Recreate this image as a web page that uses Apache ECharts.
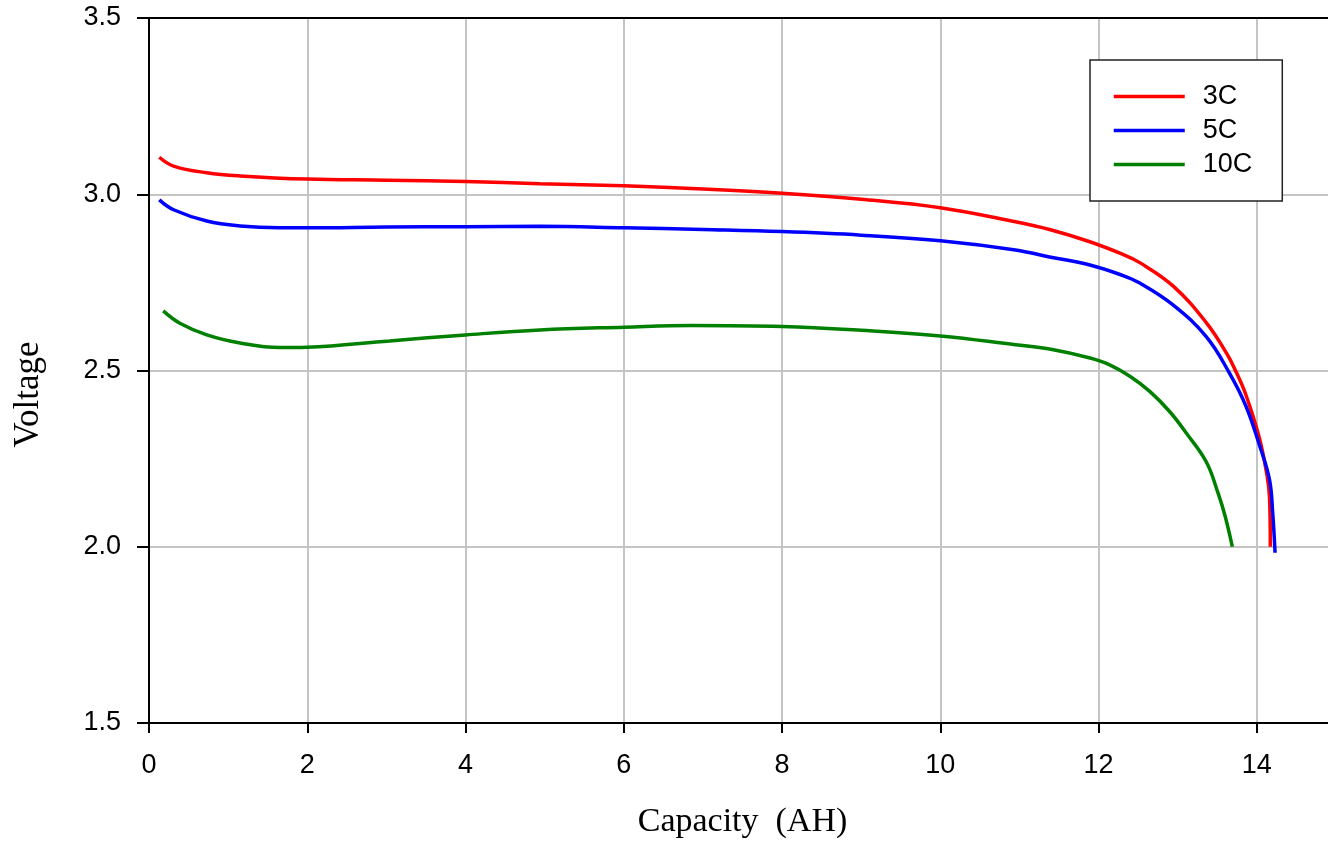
<!DOCTYPE html>
<html>
<head>
<meta charset="utf-8">
<script src="https://cdn.jsdelivr.net/npm/echarts@6/dist/echarts.min.js"></script>
<style>
	html, body { margin: 0; padding: 0; background: #fff; }
	#chart { width: 1328px; height: 843px; }
</style>
</head>
<body>
<div id="chart"></div>
<script>
// discharge curves: capacity (AH) / voltage (V)
const cap3C = [0.13, 0.31, 0.73, 1.15, 2.0, 3.0, 4.0, 4.94, 6.0, 7.0, 8.0, 9.0, 10.0, 10.95, 11.38, 11.88, 12.3, 12.52, 12.94, 13.36, 13.62, 13.74, 13.86, 14.03, 14.13, 14.16, 14.17];
const volt3C = [3.105, 3.080, 3.061, 3.052, 3.043, 3.040, 3.036, 3.030, 3.024, 3.015, 3.003, 2.986, 2.962, 2.922, 2.900, 2.866, 2.830, 2.806, 2.740, 2.636, 2.548, 2.495, 2.432, 2.31, 2.20, 2.14, 2.00];

const cap5C = [0.13, 0.31, 0.73, 1.15, 1.65, 2.0, 3.0, 4.0, 4.94, 6.0, 7.0, 8.0, 9.0, 10.0, 10.95, 11.38, 11.88, 12.3, 12.52, 12.94, 13.36, 13.65, 13.86, 14.03, 14.16, 14.2, 14.23];
const volt5C = [2.984, 2.956, 2.924, 2.910, 2.905, 2.905, 2.907, 2.908, 2.909, 2.905, 2.900, 2.894, 2.884, 2.868, 2.842, 2.822, 2.800, 2.770, 2.748, 2.686, 2.596, 2.494, 2.40, 2.29, 2.19, 2.096, 1.983];

const cap10C = [0.18, 0.39, 0.73, 1.15, 1.65, 2.0, 3.04, 4.0, 4.94, 6.0, 6.85, 8.0, 9.0, 10.0, 10.95, 11.38, 11.88, 12.14, 12.4, 12.65, 12.9, 13.11, 13.36, 13.51, 13.6, 13.69];
const volt10C = [2.669, 2.634, 2.601, 2.578, 2.565, 2.566, 2.584, 2.601, 2.615, 2.623, 2.628, 2.625, 2.614, 2.598, 2.573, 2.561, 2.536, 2.516, 2.483, 2.440, 2.383, 2.322, 2.241, 2.152, 2.086, 2.0];

const seriesNames = ['3C', '5C', '10C'];
const seriesColors = ['#ff0000', '#0000ff', '#008000'];

const pairs = (xs, ys) => xs.map((x, i) => [x, ys[i]]);
const curves = [pairs(cap3C, volt3C), pairs(cap5C, volt5C), pairs(cap10C, volt10C)];

const labelFont = 'Liberation Sans, Arial, sans-serif';
const titleFont = 'Liberation Serif, Times New Roman, serif';

let chart = echarts.init(document.getElementById('chart'));
chart.setOption({
	animation: false,
	backgroundColor: '#fff',
	grid: {
		left: 149, top: 18, right: -8, bottom: 120,
		containLabel: false,
		outerBoundsMode: 'none'
	},
	legend: {
		data: seriesNames,
		orient: 'vertical',
		left: 1090, top: 60,
		backgroundColor: '#fff',
		borderColor: '#222',
		borderWidth: 1.5,
		borderRadius: 0,
		padding: [23, 30, 23, 22],
		itemWidth: 71,
		itemHeight: 4,
		itemGap: 7,
		lineStyle: { width: 3.5 },
		textStyle: {
			fontFamily: labelFont,
			fontSize: 27,
			color: '#000',
			padding: [0, 0, 0, 13]
		}
	},
	xAxis: [{
		type: 'value',
		min: 0, max: 15, interval: 2,
		name: 'Capacity  (AH)',
		nameLocation: 'middle',
		nameGap: 82,
		nameTextStyle: { fontFamily: titleFont, fontSize: 34, color: '#000' },
		axisLine: { lineStyle: { color: '#000', width: 2 } },
		axisTick: { show: true, length: 10, lineStyle: { color: '#000', width: 2 } },
		axisLabel: {
			fontFamily: labelFont, fontSize: 27, color: '#000', margin: 29,
			formatter: v => (v > 14 ? '' : String(v))
		},
		splitLine: { show: true, lineStyle: { color: '#c4c4c4', width: 2 } }
	}, {
		type: 'value',
		position: 'top',
		min: 0, max: 15,
		axisLine: { show: true, lineStyle: { color: '#000', width: 2 } },
		axisTick: { show: false },
		axisLabel: { show: false },
		splitLine: { show: false }
	}],
	yAxis: {
		type: 'value',
		min: 1.5, max: 3.5, interval: 0.5,
		name: 'Voltage',
		nameLocation: 'middle',
		nameGap: 103,
		nameRotate: 90,
		nameTextStyle: { fontFamily: titleFont, fontSize: 35, color: '#000', padding: [0, 48, 0, 0] },
		axisLine: { show: true, lineStyle: { color: '#000', width: 2 } },
		axisTick: { show: true, length: 12, lineStyle: { color: '#000', width: 2 } },
		axisLabel: {
			fontFamily: labelFont, fontSize: 27, color: '#000', margin: 28,
			formatter: v => v.toFixed(1)
		},
		splitLine: { show: true, lineStyle: { color: '#c4c4c4', width: 2 } }
	},
	series: curves.map((d, i) => ({
		name: seriesNames[i],
		type: 'line',
		data: d,
		showSymbol: false,
		symbol: 'none',
		smooth: 0.4,
		color: seriesColors[i],
		lineStyle: { color: seriesColors[i], width: 3.5 }
	}))
});
</script>
</body>
</html>
